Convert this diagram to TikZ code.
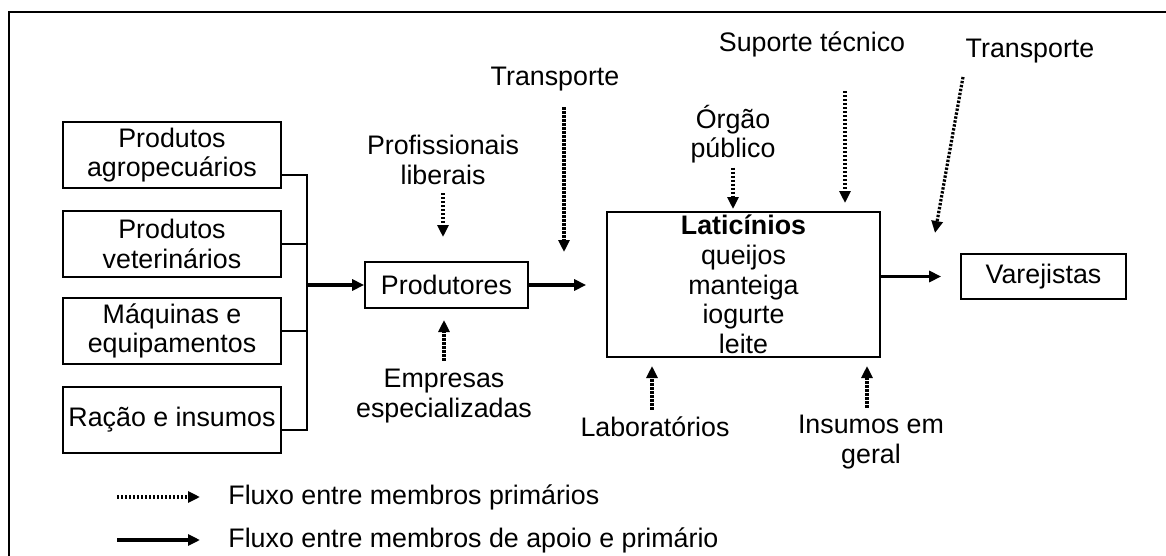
\documentclass[tikz,border=0pt]{standalone}
\usepackage{fontspec}
\setmainfont{Liberation Sans}
\usepackage{tikz}
\usetikzlibrary{arrows.meta}
\tikzset{>={Triangle[length=6pt,width=5.5pt]}}
\tikzset{%
    caixa/.style={draw, line width=0.85pt, inner sep=0pt, align=center},
    rotulo/.style={inner sep=0pt, align=center},
    pontilhada/.style={->, line width=1.6pt, dash pattern=on 1.2pt off 0.8pt},
    grossa/.style={->, line width=1.8pt}
}

\begin{document}
\begin{tikzpicture}[x=0.5pt, y=-0.5pt, font=\fontsize{13.4}{14.8}\selectfont]
    \useasboundingbox (0,0) rectangle (1166,556);
    \clip (0,0) rectangle (1166,556);
    \draw[line width=1.3pt] (9,12) rectangle (1200,600);
    \node[caixa, minimum width=109pt, minimum height=33pt] (agro) at (172,155) {Produtos\\agropecuários};
    \node[caixa, minimum width=109pt, minimum height=33pt] (vet) at (172,244) {Produtos\\veterinários};
    \node[caixa, minimum width=109pt, minimum height=33pt] (maq) at (172,331) {Máquinas e\\equipamentos};
    \node[caixa, minimum width=109pt, minimum height=33pt] (racao) at (172,420) {\raisebox{2pt}{Ração e insumos}};
    \coordinate (bus) at (307,285);
    \draw[line width=0.75pt] ([yshift=-10pt]agro.east) -- ([yshift=-10pt]agro.east -| bus) -- ([yshift=-5pt]racao.east -| bus) -- ([yshift=-5pt]racao.east);
    \draw[line width=0.75pt] (vet.east) -- (vet.east -| bus);
    \draw[line width=0.75pt] (maq.east) -- (maq.east -| bus);
    \node[caixa, minimum width=81.5pt, minimum height=23pt] (prod) at (446.5,285) {Produtores};
    \draw[grossa] (bus) -- (prod.west);
    \node[caixa, minimum width=136.5pt, minimum height=72.5pt] (lat) at (743.5,284.5) {\textbf{Laticínios}\\queijos\\manteiga\\iogurte\\leite};
    \node[caixa, minimum width=82.5pt, minimum height=22.5pt] (var) at (1043.5,276.5) {Varejistas};
    \draw[grossa, shorten >=10pt] (prod.east) -- (prod.east -| lat.west);
    \draw[grossa, shorten >=9.5pt] (lat.east |- var.west) -- (var.west);
    % apoio
    \node[rotulo] (prof) at (443,160) {Profissionais\\liberais};
    \node[rotulo] (trans1) at (555,79) {Transporte};
    \node[rotulo] (emp) at (444,396) {Empresas\\especializadas};
    \node[rotulo] (orgao) at (733,134) {Órgão\\público};
    \node[rotulo] (sup) at (812,44) {Suporte técnico};
    \node[rotulo] (trans2) at (1030,51) {Transporte};
    \node[rotulo] (lab) at (655,427) {Laboratórios};
    \node[rotulo] (ins) at (871,442) {Insumos em\\geral};
    \coordinate (prof-p) at (443,237);
    \coordinate (trans1-p) at (564,252);
    \coordinate (emp-p) at (444,320);
    \coordinate (orgao-p) at (733,209);
    \coordinate (sup-p) at (845,203);
    \coordinate (trans2-a) at (963,77);
    \coordinate (trans2-p) at (935,233);
    \coordinate (lab-p) at (652,366);
    \coordinate (ins-p) at (867,366);
    \draw[pontilhada, shorten <=4pt] (prof.south) -- (prof-p);
    \draw[pontilhada, shorten <=8pt] (trans1.south -| trans1-p) -- (trans1-p);
    \draw[pontilhada, shorten <=4pt] (emp.north) -- (emp-p);
    \draw[pontilhada, shorten <=2pt] (orgao.south) -- (orgao-p);
    \draw[pontilhada, shorten <=17pt] (sup.south -| sup-p) -- (sup-p);
    \draw[pontilhada] (trans2-a) -- (trans2-p);
    \draw[pontilhada, shorten <=3.5pt] (lab.north -| lab-p) -- (lab-p);
    \draw[pontilhada, shorten <=3.5pt] (ins.north -| ins-p) -- (ins-p);
    % legenda
    \node[rotulo, anchor=west] (leg1) at (228,497) {Fluxo entre membros primários};
    \node[rotulo, anchor=west] (leg2) at (228,540) {Fluxo entre membros de apoio e primário};
    \coordinate (leg1-a) at (117,497);
    \coordinate (leg2-a) at (117,540);
    \draw[pontilhada, shorten >=14pt] (leg1-a) -- (leg1.west);
    \draw[grossa, shorten >=14pt] (leg2-a) -- (leg2.west);
\end{tikzpicture}
\end{document}
